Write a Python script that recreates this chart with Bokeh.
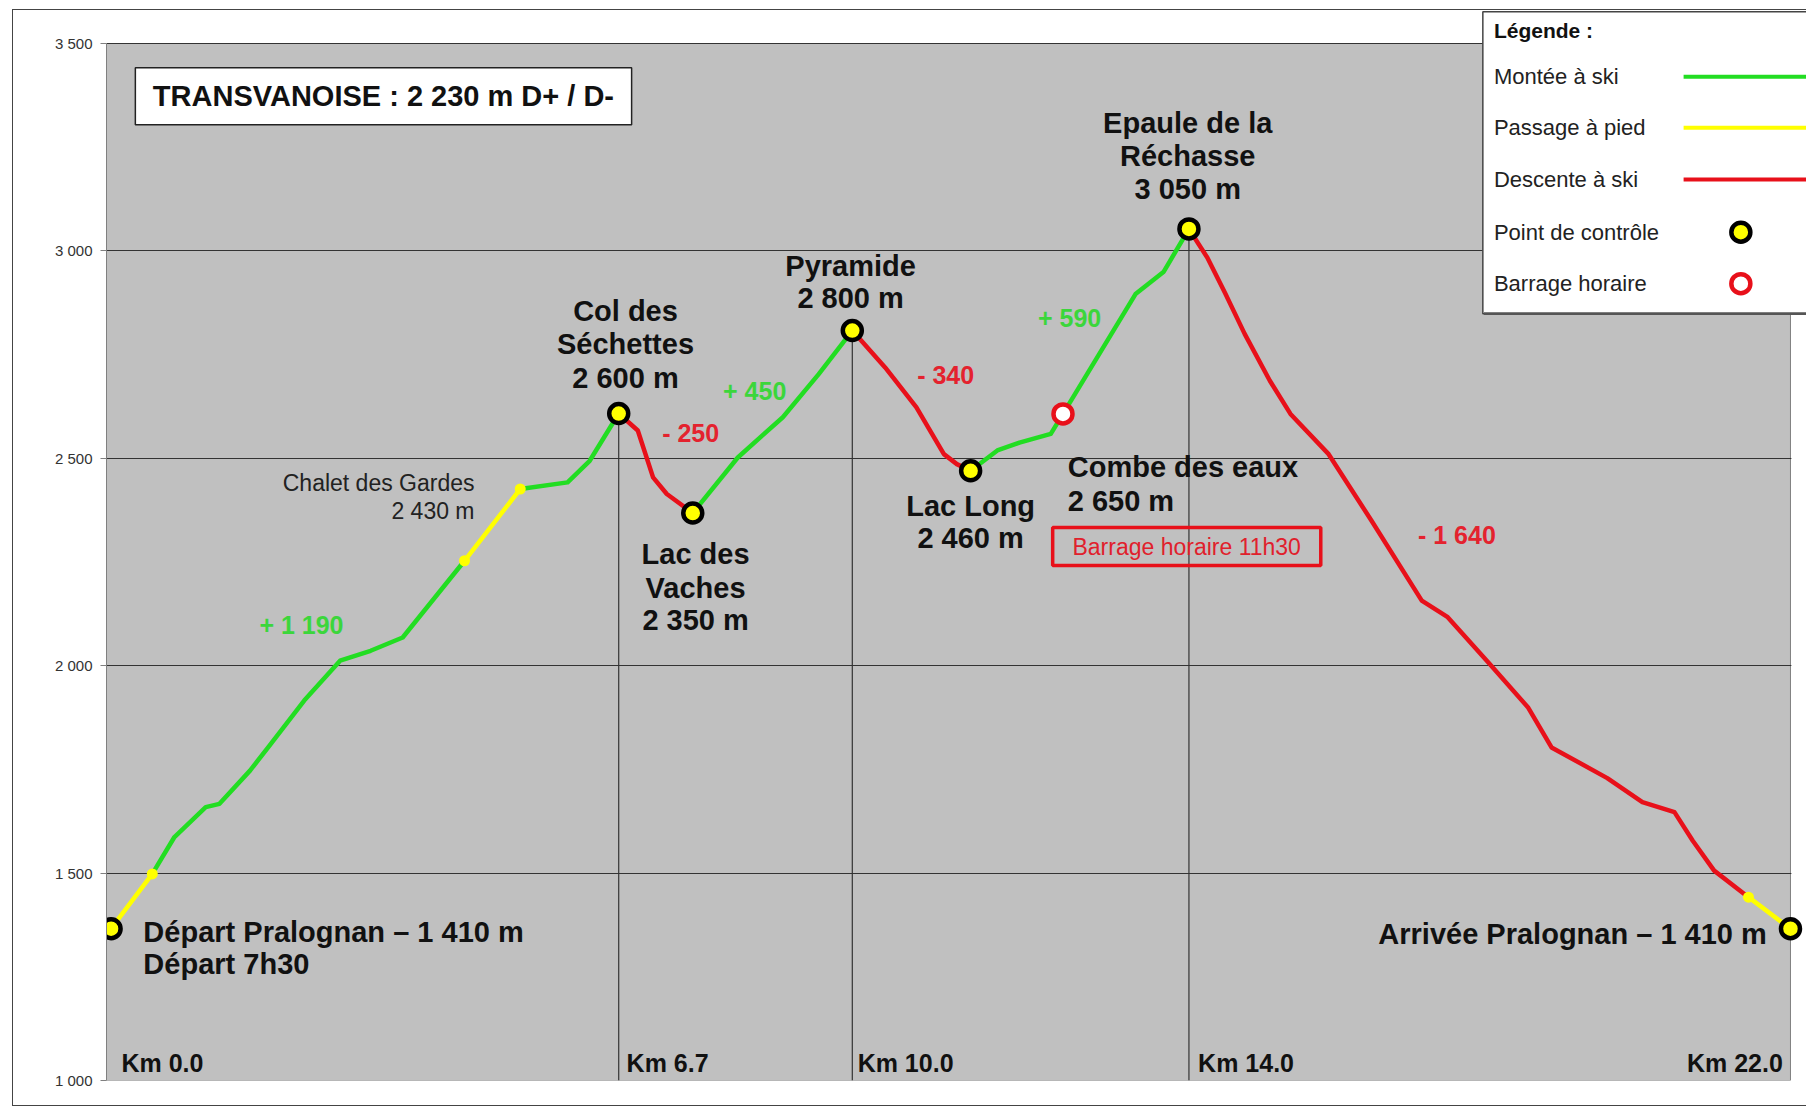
from bokeh.plotting import figure
from bokeh.models import Range1d, FixedTicker, Label, BoxAnnotation, InlineStyleSheet
from bokeh.embed import file_html
from bokeh.resources import INLINE

# ---------------- data (km, m) ----------------
walk1_x = [0.00, 0.54]
walk1_y = [1366, 1498]
up1_x = [0.54, 0.83, 1.24, 1.42, 1.82, 2.06, 2.53, 3.00, 3.40, 3.82, 4.63]
up1_y = [1498, 1587, 1659, 1667, 1747, 1804, 1916, 2012, 2036, 2068, 2253]
walk2_x = [4.63, 5.36]
walk2_y = [2253, 2426]
up2_x = [5.36, 5.98, 6.27, 6.65]
up2_y = [2426, 2442, 2494, 2608]
down1_x = [6.65, 6.90, 7.10, 7.28, 7.62]
down1_y = [2608, 2567, 2454, 2414, 2368]
up3_x = [7.62, 8.21, 8.80, 9.27, 9.71]
up3_y = [2368, 2502, 2599, 2703, 2808]
down2_x = [9.71, 10.14, 10.55, 10.91, 11.08, 11.26]
down2_y = [2808, 2719, 2623, 2510, 2486, 2470]
up4_x = [11.26, 11.61, 11.90, 12.31, 12.47, 13.42, 13.79, 14.12]
up4_y = [2470, 2519, 2538, 2559, 2607, 2896, 2950, 3053]
down3_x = [14.12, 14.36, 14.59, 14.85, 15.18, 15.45, 15.95, 16.51, 17.17, 17.51,
           18.06, 18.56, 18.87, 19.60, 20.06, 20.48, 20.72, 21.00, 21.45]
down3_y = [3053, 2984, 2900, 2800, 2687, 2607, 2510, 2350, 2157, 2117,
           2004, 1900, 1803, 1729, 1671, 1647, 1578, 1506, 1442]
walk3_x = [21.45, 22.00]
walk3_y = [1442, 1366]

checkpoint_x = [0.00, 6.65, 7.62, 9.71, 11.26, 14.12, 22.00]
checkpoint_y = [1366, 2608, 2368, 2808, 2470, 3053, 1366]
barrier_x = [12.47]
barrier_y = [2607]
walk_dot_x = [0.54, 4.63, 5.36, 21.45]
walk_dot_y = [1498, 2253, 2426, 1442]
summit_x = [6.65, 9.71, 14.12]
summit_y = [2608, 2808, 3053]

y_ticks = [1000, 1500, 2000, 2500, 3000, 3500]
y_tick_labels = ["1 000", "1 500", "2 000", "2 500", "3 000", "3 500"]
km_labels = ["Km 0.0", "Km 6.7", "Km 10.0", "Km 14.0", "Km 22.0"]
legend_labels = ["Montée à ski", "Passage à pied", "Descente à ski",
                 "Point de contrôle", "Barrage horaire"]

GREEN = "#22DD22"
YELLOW = "#FFFF00"
RED = "#E8101A"
FONT = "Liberation Sans"
X0, X1 = -0.06, 22.0
X_RIGHT = 22.21
Y0, Y1 = 1000, 3500
Y_TOP = 3582.0

p = figure(width=1806, height=1106, output_backend="svg", toolbar_location=None,
           x_range=Range1d(X0, X_RIGHT), y_range=Range1d(Y0, Y_TOP),
           min_border_left=106, min_border_right=0, min_border_top=9,
           min_border_bottom=26)
p.background_fill_color = "white"
p.border_fill_color = "white"
p.outline_line_color = None
p.stylesheets = [InlineStyleSheet(css="""
:host { position: relative; overflow: hidden; }
:host::after { content: ''; position: absolute; left: 12px; top: 9px;
  width: 1880px; height: 1097px; box-sizing: border-box;
  border: 1.5px solid #444; border-right: none; pointer-events: none; }
""")]

# plot area
p.add_layout(BoxAnnotation(left=X0, right=X1, bottom=Y0, top=Y1,
                           fill_color="#C0C0C0", fill_alpha=1,
                           line_color="#808080", line_alpha=1, line_width=1,
                           level="image"))

p.xaxis.visible = False
p.xgrid.visible = False
p.ygrid.ticker = FixedTicker(ticks=y_ticks)
p.ygrid.grid_line_color = "#333333"
p.ygrid.grid_line_width = 1
p.yaxis.ticker = FixedTicker(ticks=y_ticks)
p.yaxis.bounds = (Y0, Y1)
p.yaxis.major_label_overrides = {t: s for t, s in zip(y_ticks, y_tick_labels)}
p.yaxis.axis_line_color = "#808080"
p.yaxis.major_tick_line_color = "#808080"
p.yaxis.major_tick_out = 6
p.yaxis.major_tick_in = 0
p.yaxis.minor_tick_line_color = None
p.yaxis.major_label_standoff = 8
p.yaxis.major_label_text_font = FONT
p.yaxis.major_label_text_font_size = "15px"
p.yaxis.major_label_text_color = "#333333"

# white strip right of the plot area (hides grid lines there)
p.add_layout(BoxAnnotation(left=X1 + 0.012, right=X_RIGHT + 1, bottom=Y0 - 100,
                           top=Y_TOP + 100, fill_color="white", fill_alpha=1,
                           line_color=None, level="underlay"))

# drop lines below summits
p.segment(x0=summit_x, y0=[Y0] * len(summit_x), x1=summit_x, y1=summit_y,
          line_color="#333333", line_width=1.2)

segments = [
    (walk1_x, walk1_y, YELLOW), (up1_x, up1_y, GREEN), (walk2_x, walk2_y, YELLOW),
    (up2_x, up2_y, GREEN), (down1_x, down1_y, RED), (up3_x, up3_y, GREEN),
    (down2_x, down2_y, RED), (up4_x, up4_y, GREEN), (down3_x, down3_y, RED),
    (walk3_x, walk3_y, YELLOW),
]
for xs, ys, c in segments:
    p.line(xs, ys, line_color=c, line_width=4.5, line_join="round", line_cap="round")

p.scatter(walk_dot_x, walk_dot_y, size=11, fill_color=YELLOW, line_color=None)
p.scatter(checkpoint_x, checkpoint_y, size=19, fill_color=YELLOW,
          line_color="black", line_width=4.5)
p.scatter(barrier_x, barrier_y, size=19, fill_color="white",
          line_color=RED, line_width=4.5)


def lab(x, y, text, size=29, align="center", bold=True, color="#111111"):
    p.add_layout(Label(x=x, y=y, text=text, text_font=FONT,
                       text_font_size=f"{size}px",
                       text_font_style="bold" if bold else "normal",
                       text_align=align, text_baseline="middle",
                       text_color=color))


# title box
p.add_layout(BoxAnnotation(left=0.318, right=6.819, top=3441.7, bottom=3304.3,
                           fill_color="white", fill_alpha=1, line_color="#222222",
                           line_alpha=1, line_width=1.5))
lab(3.568, 3373, "TRANSVANOISE : 2 230 m D+ / D-", size=29)

# place labels
lab(6.739, 2856, "Col des")
lab(6.739, 2776, "Séchettes")
lab(6.739, 2694, "2 600 m")
lab(9.688, 2964, "Pyramide")
lab(9.688, 2887, "2 800 m")
lab(14.104, 3309, "Epaule de la")
lab(14.104, 3230, "Réchasse")
lab(14.104, 3150, "3 050 m")
lab(7.657, 2270, "Lac des")
lab(7.657, 2188, "Vaches")
lab(7.657, 2109, "2 350 m")
lab(11.26, 2386, "Lac Long")
lab(11.26, 2309, "2 460 m")
lab(12.532, 2478, "Combe des eaux", align="left")
lab(12.532, 2398, "2 650 m", align="left")
lab(0.423, 1359, "Départ Pralognan – 1 410 m", align="left")
lab(0.423, 1280, "Départ 7h30", align="left")
lab(21.69, 1354, "Arrivée Pralognan – 1 410 m", align="right")
lab(4.761, 2440, "Chalet des Gardes", size=23, align="right", bold=False, color="#222222")
lab(4.761, 2374, "2 430 m", size=23, align="right", bold=False, color="#222222")

# barrier box
p.add_layout(BoxAnnotation(left=12.335, right=15.847, top=2332.9, bottom=2241.3,
                           fill_alpha=0, line_color=RED, line_alpha=1, line_width=3.5))
lab(14.09, 2287, "Barrage horaire 11h30", size=23, bold=False, color="#E0202C")

# gains
GTXT = "#3BD63B"
RTXT = "#E4222E"
lab(2.494, 2097, "+ 1 190", size=25, color=GTXT)
lab(7.592, 2560, "- 250", size=25, color=RTXT)
lab(8.431, 2663, "+ 450", size=25, color=GTXT)
lab(10.933, 2702, "- 340", size=25, color=RTXT)
lab(12.557, 2839, "+ 590", size=25, color=GTXT)
lab(17.63, 2315, "- 1 640", size=25, color=RTXT)

# km labels
lab(0.136, 1043, km_labels[0], size=25, align="left")
lab(6.753, 1043, km_labels[1], size=25, align="left")
lab(9.78, 1043, km_labels[2], size=25, align="left")
lab(14.24, 1043, km_labels[3], size=25, align="left")
lab(21.90, 1043, km_labels[4], size=25, align="right")

# legend
p.add_layout(BoxAnnotation(left=17.97, right=23.5, top=3576.6, bottom=2848.7,
                           fill_color="white", fill_alpha=1, line_color="#444444",
                           line_alpha=1, line_width=1.5))
p.add_layout(BoxAnnotation(left=17.985, right=23.5, top=2852.0, bottom=2845.5,
                           fill_color="#555555", fill_alpha=1, line_color=None))
lab(18.115, 3531, "Légende :", size=21, align="left")
leg_y = [3420, 3297, 3172, 3045, 2921]
for txt, yy in zip(legend_labels, leg_y):
    lab(18.115, yy, txt, size=22, align="left", bold=False, color="#222222")
for c, yy in zip([GREEN, YELLOW, RED], leg_y[:3]):
    r = p.line([20.6, 23.0], [yy, yy], line_color=c, line_width=4)
    r.level = "overlay"
r = p.scatter([21.35], [leg_y[3]], size=19, fill_color=YELLOW, line_color="black",
              line_width=4.5)
r.level = "overlay"
r = p.scatter([21.35], [leg_y[4]], size=19, fill_color="white", line_color=RED,
              line_width=4.5)
r.level = "overlay"

open("out.html", "w").write(file_html(p, INLINE))
